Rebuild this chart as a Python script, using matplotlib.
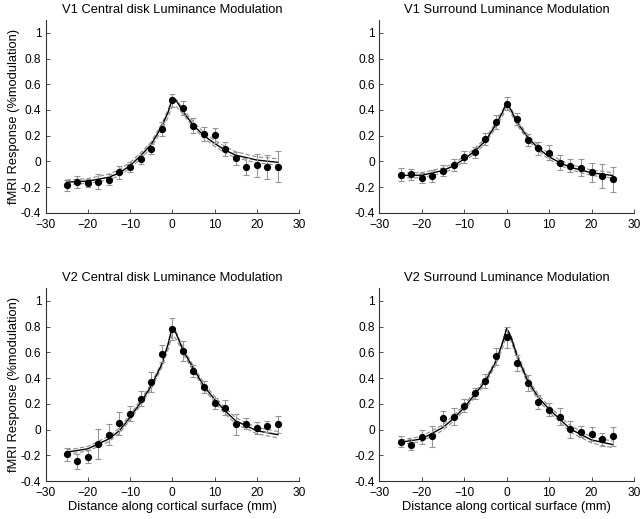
import numpy as np
import matplotlib
matplotlib.use("Agg")
import matplotlib.pyplot as plt

plt.rcParams['font.family'] = ['Liberation Sans', 'DejaVu Sans']

# ---------------- data ----------------
pos = [-25, -22.5, -20, -17.5, -15, -12.5, -10, -7.5, -5, -2.5, 0,
       2.5, 5, 7.5, 10, 12.5, 15, 17.5, 20, 22.5, 25]
curve_x = [-25, -20, -15, -12.5, -10, -7.5, -5, -2.5, -1, 0, 1,
           2.5, 5, 7.5, 10, 12.5, 15, 20, 25]

titles = ["V1 Central disk Luminance Modulation",
          "V1 Surround Luminance Modulation",
          "V2 Central disk Luminance Modulation",
          "V2 Surround Luminance Modulation"]

v1c_mean = [-0.188, -0.162, -0.172, -0.160, -0.142, -0.085, -0.044, 0.015, 0.095, 0.251, 0.475,
            0.416, 0.277, 0.210, 0.203, 0.095, 0.025, -0.041, -0.031, -0.041, -0.041]
v1c_err = [0.044, 0.046, 0.031, 0.059, 0.044, 0.051, 0.036, 0.036, 0.039, 0.054, 0.049,
           0.054, 0.057, 0.054, 0.057, 0.057, 0.051, 0.069, 0.090, 0.093, 0.120]
v1c_fit = [-0.162, -0.154, -0.124, -0.090, -0.034, 0.043, 0.130, 0.270, 0.380, 0.485, 0.470,
           0.390, 0.280, 0.200, 0.140, 0.087, 0.048, 0.010, -0.008]
v1c_hi = [-0.145, -0.135, -0.100, -0.065, -0.010, 0.065, 0.150, 0.290, 0.400, 0.490, 0.480,
          0.410, 0.305, 0.225, 0.165, 0.115, 0.075, 0.035, 0.020]
v1c_lo = [-0.180, -0.172, -0.145, -0.112, -0.055, 0.020, 0.105, 0.240, 0.340, 0.430, 0.425,
          0.370, 0.260, 0.180, 0.118, 0.065, 0.028, -0.012, -0.030]

v1s_mean = [-0.103, -0.100, -0.131, -0.116, -0.072, -0.029, 0.031, 0.069, 0.175, 0.308, 0.450,
            0.329, 0.167, 0.103, 0.067, -0.011, -0.034, -0.049, -0.087, -0.116, -0.139]
v1s_err = [0.051, 0.043, 0.041, 0.046, 0.043, 0.049, 0.046, 0.043, 0.049, 0.055, 0.049,
           0.049, 0.044, 0.051, 0.057, 0.057, 0.051, 0.068, 0.072, 0.094, 0.098]
v1s_fit = [-0.110, -0.108, -0.072, -0.035, 0.018, 0.080, 0.159, 0.288, 0.380, 0.460, 0.400,
           0.300, 0.185, 0.100, 0.035, -0.010, -0.046, -0.090, -0.110]
v1s_hi = [-0.090, -0.088, -0.052, -0.015, 0.038, 0.100, 0.180, 0.305, 0.395, 0.465, 0.415,
          0.320, 0.205, 0.122, 0.058, 0.012, -0.025, -0.068, -0.088]
v1s_lo = [-0.130, -0.128, -0.092, -0.055, -0.002, 0.060, 0.138, 0.265, 0.350, 0.425, 0.375,
          0.280, 0.165, 0.080, 0.015, -0.030, -0.066, -0.110, -0.130]

v2c_mean = [-0.194, -0.248, -0.210, -0.112, -0.040, 0.047, 0.124, 0.240, 0.369, 0.590, 0.782,
            0.610, 0.458, 0.330, 0.204, 0.171, 0.042, 0.045, 0.011, 0.024, 0.040]
v2c_err = [0.051, 0.059, 0.049, 0.120, 0.082, 0.093, 0.059, 0.057, 0.080, 0.064, 0.087,
           0.080, 0.046, 0.044, 0.044, 0.057, 0.082, 0.044, 0.044, 0.044, 0.068]
v2c_fit = [-0.176, -0.150, -0.073, -0.009, 0.094, 0.209, 0.337, 0.505, 0.660, 0.795, 0.740,
           0.620, 0.474, 0.337, 0.235, 0.145, 0.068, -0.009, -0.040]
v2c_hi = [-0.160, -0.132, -0.052, 0.012, 0.115, 0.230, 0.355, 0.520, 0.670, 0.800, 0.755,
          0.640, 0.495, 0.360, 0.258, 0.170, 0.092, 0.015, -0.015]
v2c_lo = [-0.192, -0.168, -0.094, -0.030, 0.073, 0.188, 0.315, 0.480, 0.620, 0.735, 0.700,
          0.595, 0.452, 0.315, 0.212, 0.122, 0.045, -0.032, -0.065]

v2s_mean = [-0.094, -0.117, -0.056, -0.053, 0.088, 0.101, 0.184, 0.281, 0.376, 0.569, 0.716,
            0.515, 0.361, 0.217, 0.155, 0.101, 0.001, -0.017, -0.035, -0.076, -0.053]
v2s_err = [0.044, 0.044, 0.054, 0.080, 0.059, 0.064, 0.051, 0.044, 0.057, 0.064, 0.080,
           0.062, 0.062, 0.054, 0.051, 0.064, 0.064, 0.044, 0.054, 0.049, 0.072]
v2s_fit = [-0.099, -0.073, 0.016, 0.086, 0.171, 0.274, 0.376, 0.530, 0.670, 0.785, 0.720,
           0.569, 0.376, 0.248, 0.158, 0.081, 0.004, -0.081, -0.117]
v2s_hi = [-0.082, -0.053, 0.038, 0.108, 0.192, 0.295, 0.395, 0.545, 0.680, 0.790, 0.735,
          0.590, 0.398, 0.270, 0.180, 0.105, 0.030, -0.058, -0.090]
v2s_lo = [-0.116, -0.093, -0.006, 0.064, 0.150, 0.253, 0.355, 0.505, 0.630, 0.735, 0.690,
          0.548, 0.354, 0.226, 0.136, 0.058, -0.020, -0.104, -0.142]

panels = [
    (v1c_mean, v1c_err, v1c_fit, v1c_hi, v1c_lo),
    (v1s_mean, v1s_err, v1s_fit, v1s_hi, v1s_lo),
    (v2c_mean, v2c_err, v2c_fit, v2c_hi, v2c_lo),
    (v2s_mean, v2s_err, v2s_fit, v2s_hi, v2s_lo),
]

xticks = [-30, -20, -10, 0, 10, 20, 30]
yticks = [-0.4, -0.2, 0, 0.2, 0.4, 0.6, 0.8, 1]
ytick_labels = ["-0.4", "-0.2", "0", "0.2", "0.4", "0.6", "0.8", "1"]

# ---------------- figure ----------------
fig = plt.figure(figsize=(6.4, 5.19), dpi=100)
W, H = 640, 519
rects = [(45.5, 20, 299, 212.7), (379.3, 20, 634, 212.7),
         (45.5, 288, 299, 481), (379.3, 288, 634, 481)]

for i, (r, (mean, err, fit, hi, lo)) in enumerate(zip(rects, panels)):
    x0, y0, x1, y1 = r
    ax = fig.add_axes([x0 / W, 1 - y1 / H, (x1 - x0) / W, (y1 - y0) / H])
    ax.plot(curve_x, hi, color='#8a8a8a', lw=0.8, ls=(0, (4, 2)), zorder=2)
    ax.plot(curve_x, lo, color='#8a8a8a', lw=0.8, ls=(0, (4, 2)), zorder=2)
    ax.plot(curve_x, fit, color='black', lw=1.0, zorder=3)
    ax.errorbar(pos, mean, yerr=err, fmt='none', ecolor='#959595',
                elinewidth=0.8, capsize=2.2, capthick=0.8, zorder=4)
    ax.plot(pos, mean, 'o', color='black', ms=4.2, zorder=5)

    ax.set_xlim(-30, 30)
    ax.set_ylim(-0.4, 1.1)
    ax.set_xticks(xticks)
    ax.set_yticks(yticks)
    ax.set_yticklabels(ytick_labels)
    for s in ['top', 'right']:
        ax.spines[s].set_visible(False)
    for s in ['left', 'bottom']:
        ax.spines[s].set_linewidth(0.8)
        ax.spines[s].set_color('#333333')
    ax.tick_params(direction='in', length=3, width=0.6, labelsize=8.6,
                   colors='#333333', labelcolor='black')
    ax.tick_params(axis='x', pad=4.5)
    ax.tick_params(axis='y', pad=3)
    ax.set_title(titles[i], fontsize=9.3, pad=5)
    if i % 2 == 0:
        ax.set_ylabel("fMRI Response (%modulation)", fontsize=9.3, labelpad=1)
    if i >= 2:
        ax.set_xlabel("Distance along cortical surface (mm)", fontsize=9.3, labelpad=1.5)

fig.savefig("out.png", dpi=100)
